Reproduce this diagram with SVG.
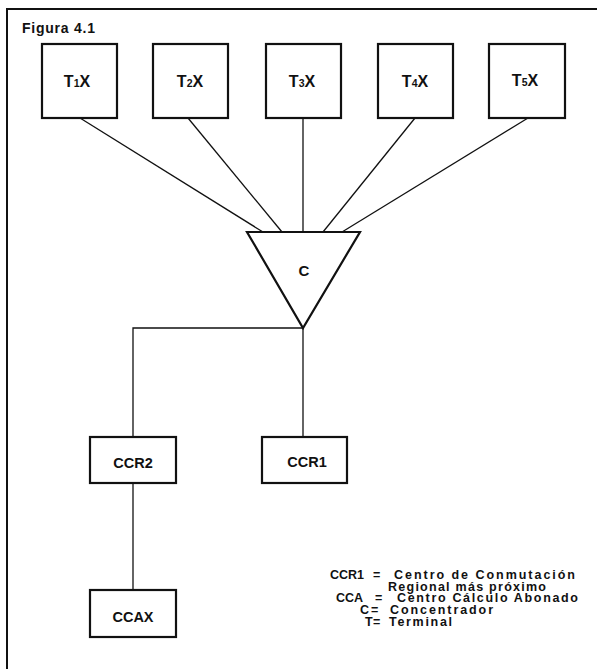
<svg xmlns="http://www.w3.org/2000/svg" width="597" height="669" viewBox="0 0 597 669">
<style>
.box{fill:#fff;stroke:#111;stroke-width:2.2}
.ln{fill:none;stroke:#111;stroke-width:1.3}
.fr{fill:none;stroke:#111;stroke-width:2}
text{font-family:"Liberation Sans",Arial,sans-serif;font-weight:bold;fill:#111}
.lbl{font-size:16px;text-anchor:middle}
.lg{font-size:12.5px}
.sub{font-size:10.5px}
</style>
<rect width="597" height="669" fill="#fff"/>
<path class="fr" d="M7,669 V9 H597"/>
<text x="22" y="33" style="font-size:14px" textLength="73">Figura  4.1</text>
<g id="connectors">
<line class="ln" x1="80" y1="118" x2="263" y2="232"/>
<line class="ln" x1="188" y1="118" x2="282" y2="232"/>
<line class="ln" x1="303" y1="118" x2="303" y2="232"/>
<line class="ln" x1="415" y1="118" x2="323" y2="232"/>
<line class="ln" x1="528" y1="118" x2="342" y2="232"/>
<path class="ln" d="M303,328 H133 V437"/>
<line class="ln" x1="303" y1="328" x2="303" y2="437"/>
<line class="ln" x1="133" y1="483" x2="133" y2="590"/>
</g>
<g id="T1X"><rect class="box" x="42" y="44" width="75" height="74"/><text class="lbl" x="77" y="87">T<tspan class="sub">1</tspan>X</text></g>
<g id="T2X"><rect class="box" x="153" y="44" width="75" height="74"/><text class="lbl" x="190" y="87">T<tspan class="sub">2</tspan>X</text></g>
<g id="T3X"><rect class="box" x="266" y="44" width="75" height="74"/><text class="lbl" x="302" y="87">T<tspan class="sub">3</tspan>X</text></g>
<g id="T4X"><rect class="box" x="378" y="44" width="75" height="74"/><text class="lbl" x="415" y="87">T<tspan class="sub">4</tspan>X</text></g>
<g id="T5X"><rect class="box" x="489" y="44" width="76" height="74"/><text class="lbl" x="525" y="86">T<tspan class="sub">5</tspan>X</text></g>
<g id="C"><polygon class="box" points="247,232 360,232 303,328"/><text class="lbl" x="304" y="276" style="font-size:15px">C</text></g>
<g id="CCR2"><rect class="box" x="90" y="437" width="86" height="46"/><text class="lbl" x="133" y="468" style="font-size:14.5px">CCR2</text></g>
<g id="CCR1"><rect class="box" x="262" y="437" width="85" height="46"/><text class="lbl" x="307" y="467" style="font-size:14.5px">CCR1</text></g>
<g id="CCAX"><rect class="box" x="90" y="590" width="86" height="47"/><text class="lbl" x="133" y="622" style="font-size:14.5px">CCAX</text></g>
<g id="legend">
<text class="lg" y="579"><tspan x="330">CCR1</tspan><tspan x="373">=</tspan><tspan x="394" textLength="181">Centro de Conmutación</tspan></text>
<text class="lg" y="590.5"><tspan x="388" textLength="158">Regional más próximo</tspan></text>
<text class="lg" y="602"><tspan x="336">CCA</tspan><tspan x="375">=</tspan><tspan x="397" textLength="181">Centro Cálculo Abonado</tspan></text>
<text class="lg" y="614"><tspan x="360">C</tspan><tspan x="371">=</tspan><tspan x="390" textLength="103">Concentrador</tspan></text>
<text class="lg" y="625.5"><tspan x="365">T</tspan><tspan x="373">=</tspan><tspan x="389" textLength="63">Terminal</tspan></text>
</g>
</svg>
